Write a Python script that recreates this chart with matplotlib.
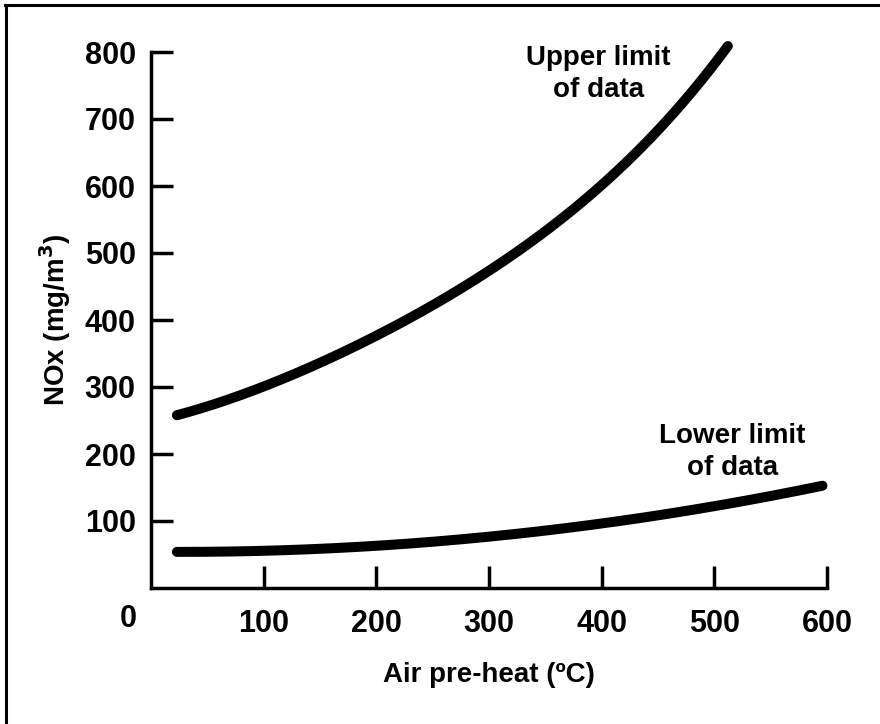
import matplotlib.pyplot as plt
import numpy as np
from matplotlib.lines import Line2D

# curve values
upper_x = [23, 96, 156, 214, 268, 324, 382, 442, 486, 512]
upper_y = [258, 298, 340, 390, 440, 500, 575, 669, 754, 808]
lower_x = [23, 100, 200, 256, 300, 400, 500, 596]
lower_y = [55, 55, 63, 69, 74, 98, 126, 150]

x_ticks = [100, 200, 300, 400, 500, 600]
y_ticks = [100, 200, 300, 400, 500, 600, 700, 800]

plt.rcParams['font.family'] = ['Liberation Sans', 'DejaVu Sans']
plt.rcParams['font.weight'] = 'bold'


def smooth(xs, ys, deg, n=200):
    # simple smoothing through the read points
    xs = np.array(xs, float)
    ys = np.array(ys, float)
    xn = np.linspace(xs[0], xs[-1], n)
    coef = np.polyfit(xs, ys, deg)
    return xn, np.polyval(coef, xn)


fig = plt.figure(figsize=(8.8, 7.24), dpi=100)
ax = fig.add_axes([151 / 880, 1 - 588 / 724, (827 - 151) / 880, (588 - 52) / 724])

ux, uy = smooth(upper_x, upper_y, 4)
lx, ly = smooth(lower_x, lower_y, 2)
ax.plot(ux, uy, color='black', lw=7.2, solid_capstyle='round', clip_on=False)
ax.plot(lx, ly, color='black', lw=7.2, solid_capstyle='round', clip_on=False)

ax.set_xlim(0, 600)
ax.set_ylim(0, 800)
ax.spines['top'].set_visible(False)
ax.spines['right'].set_visible(False)
for s in ['left', 'bottom']:
    ax.spines[s].set_linewidth(2.5)

ax.set_xticks(x_ticks)
ax.set_yticks(y_ticks)
ax.tick_params(axis='both', direction='in', length=16, width=2.5, labelsize=22)
ax.tick_params(axis='x', pad=15)
ax.tick_params(axis='y', pad=11)
for lab in ax.get_xticklabels() + ax.get_yticklabels():
    lab.set_fontweight('bold')

ax.set_xlabel('Air pre-heat (ºC)', fontsize=20, fontweight='bold', labelpad=17)
ax.set_ylabel('NOx (mg/m$^{\\mathbf{3}}$)', fontsize=20, fontweight='bold', labelpad=8)

ax.text(-20, -47, '0', fontsize=22, fontweight='bold', ha='center', va='center',
        clip_on=False)

ax.text(397, 767, 'Upper limit\nof data', fontsize=20, fontweight='bold',
        ha='center', va='center', linespacing=1.3)
ax.text(516, 203, 'Lower limit\nof data', fontsize=20, fontweight='bold',
        ha='center', va='center', linespacing=1.3)

# border lines of the original scan (top and left only)
fig.add_artist(Line2D([6 / 880, 6 / 880], [0, 1 - 5 / 724], color='black', lw=2.2))
fig.add_artist(Line2D([5 / 880, 1], [1 - 5 / 724, 1 - 5 / 724], color='black', lw=2.2))

fig.savefig('out.png', dpi=100)
